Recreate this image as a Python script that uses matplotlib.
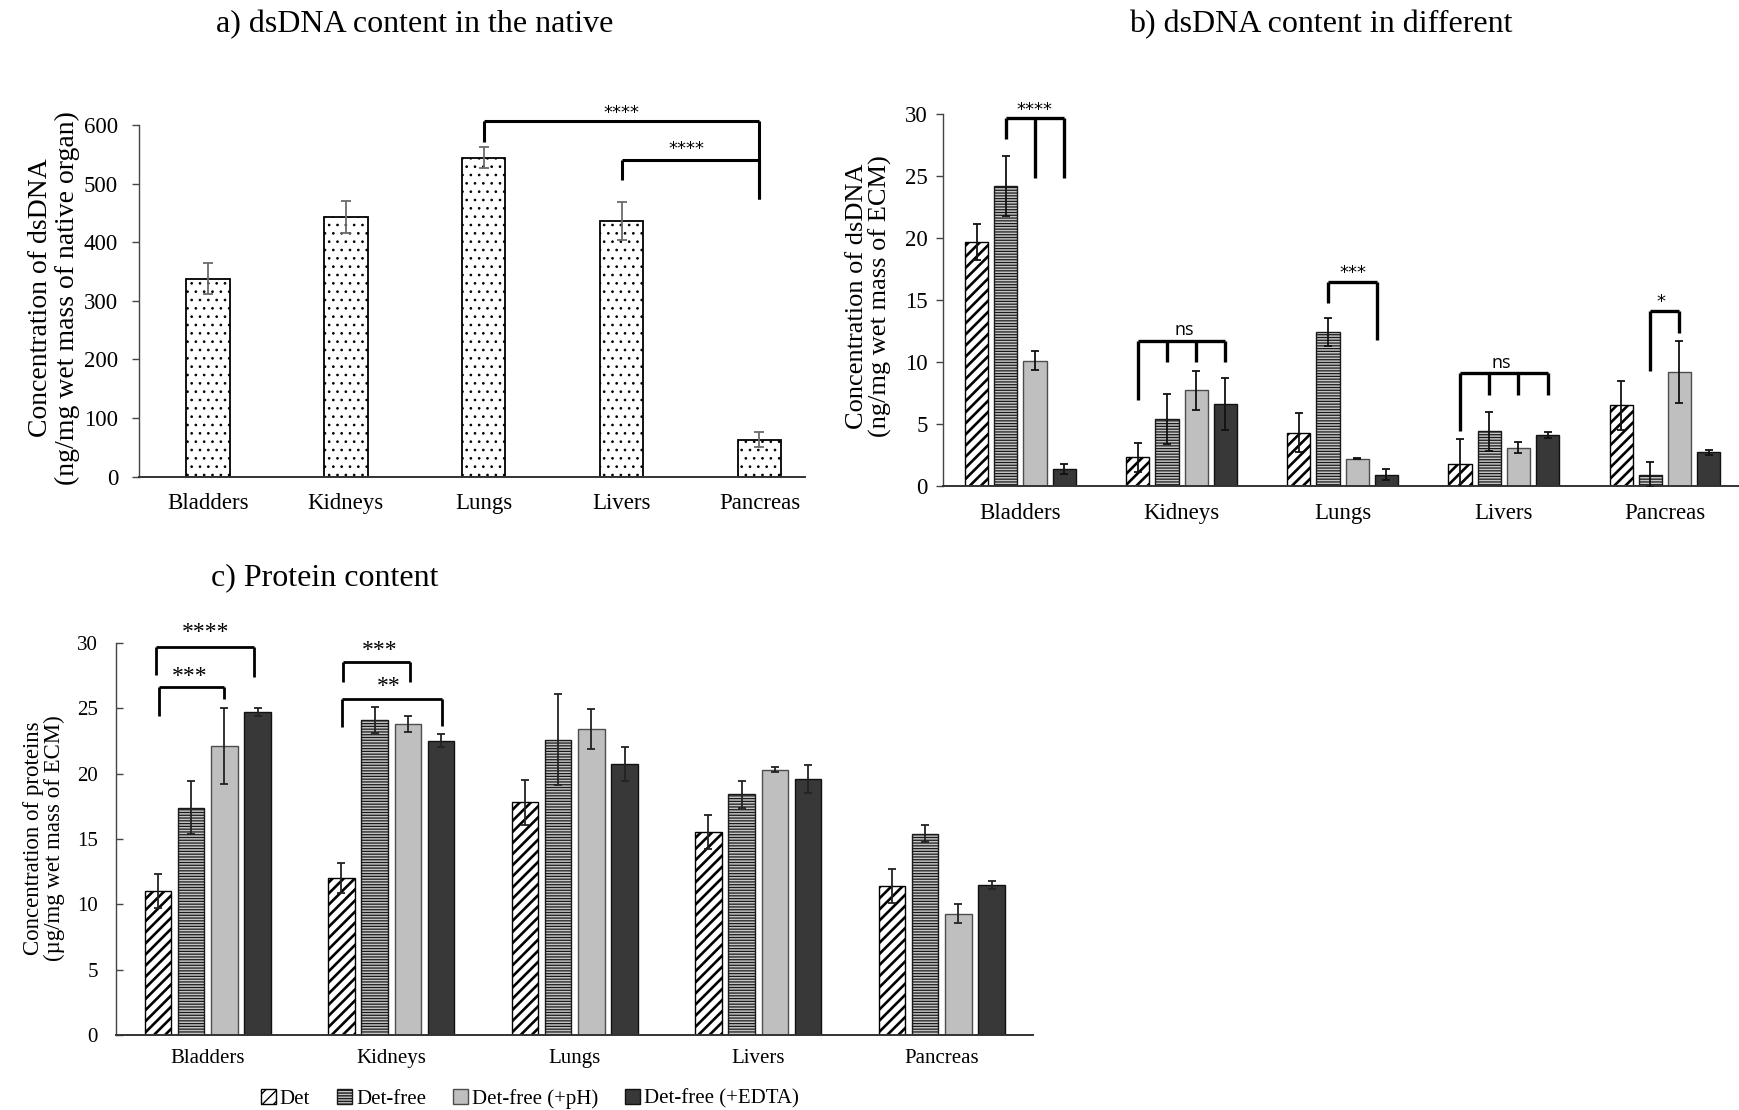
import numpy as np
import matplotlib
matplotlib.use("Agg")
import matplotlib.pyplot as plt

plt.rcParams["font.family"] = ["Liberation Serif", "DejaVu Serif"]

organs = ["Bladders", "Kidneys", "Lungs", "Livers", "Pancreas"]
series = ["Det", "Det-free", "Det-free (+pH)", "Det-free (+EDTA)"]

# a) native organs
native_mean = [338, 443, 544, 436, 63]
native_err = [26, 27, 18, 33, 13]

# b) dsDNA in ECM, one list per series
dna_mean = [
    [19.7, 2.3, 4.3, 1.8, 6.5],
    [24.2, 5.4, 12.4, 4.4, 0.9],
    [10.1, 7.7, 2.2, 3.1, 9.2],
    [1.4, 6.6, 0.9, 4.1, 2.7],
]
dna_err = [
    [1.45, 1.2, 1.6, 1.95, 1.95],
    [2.45, 2.05, 1.15, 1.6, 1.0],
    [0.78, 1.6, 0.05, 0.46, 2.53],
    [0.4, 2.1, 0.45, 0.27, 0.22],
]

# c) proteins in ECM
prot_mean = [
    [11.0, 12.0, 17.8, 15.5, 11.4],
    [17.4, 24.1, 22.6, 18.4, 15.4],
    [22.1, 23.8, 23.4, 20.3, 9.3],
    [24.7, 22.5, 20.7, 19.6, 11.5],
]
prot_err = [
    [1.3, 1.15, 1.7, 1.3, 1.3],
    [2.0, 1.0, 3.5, 1.0, 0.65],
    [2.9, 0.6, 1.55, 0.2, 0.75],
    [0.3, 0.5, 1.3, 1.05, 0.3],
]

x = np.arange(len(organs))
step = 0.181
width = 0.144
offs = [(i - 1.5) * step for i in range(4)]

styles = [
    dict(facecolor="white", edgecolor="black", hatch="///", hlw=1.9),
    dict(facecolor="#c4c4c4", edgecolor="#1a1a1a", hatch="------", hlw=0.9),
    dict(facecolor="#bfbfbf", edgecolor="#4d4d4d", hatch=None, hlw=1.0),
    dict(facecolor="#383838", edgecolor="#111111", hatch=None, hlw=1.0),
]

fig = plt.figure(figsize=(17.39, 11.10), dpi=100)


def style_axis(ax, ymax, ystep, fs, tick_dir, ypad, xpad):
    for s in ["top", "right"]:
        ax.spines[s].set_visible(False)
    ax.spines["left"].set_color("#444444")
    ax.spines["left"].set_linewidth(1.0)
    ax.spines["bottom"].set_color("#333333")
    ax.spines["bottom"].set_linewidth(1.4)
    ax.set_ylim(0, ymax)
    ax.set_yticks(np.arange(0, ymax + ystep / 2, ystep))
    ax.set_xticks(x)
    ax.set_xticklabels(organs)
    ax.tick_params(axis="x", length=0, labelsize=fs, pad=xpad)
    ax.tick_params(axis="y", direction=tick_dir, length=5, width=1,
                   color="#444444", labelsize=fs, pad=ypad)


def grouped_bars(ax, means, errs, ecolor):
    handles = []
    for i in range(4):
        st = styles[i]
        plt.rcParams["hatch.linewidth"] = st["hlw"]
        b = ax.bar(x + offs[i], means[i], width, color=st["facecolor"],
                   edgecolor=st["edgecolor"], hatch=st["hatch"], linewidth=1.0,
                   label=series[i], zorder=2)
        for p in b:
            if hasattr(p, "set_hatch_linewidth"):
                p.set_hatch_linewidth(st["hlw"])
        ax.errorbar(x + offs[i], means[i], yerr=errs[i], fmt="none", ecolor=ecolor,
                    elinewidth=1.3, capsize=3, capthick=1.3, zorder=3)
        handles.append(b)
    return handles


def bracket(ax, xs, top, bottoms, lw):
    ax.plot([xs[0], xs[-1]], [top, top], color="black", lw=lw, clip_on=False,
            solid_capstyle="butt", zorder=4)
    for xx, yb in zip(xs, bottoms):
        ax.plot([xx, xx], [top, yb], color="black", lw=lw, clip_on=False,
                solid_capstyle="butt", zorder=4)


# ---------- a)
ax_a = fig.add_axes([0.0799, 0.5705, 0.383, 0.3169])
plt.rcParams["hatch.linewidth"] = 0.7
bars_a = ax_a.bar(x, native_mean, 0.315, color="white", edgecolor="black",
                  hatch="..", linewidth=1.3, zorder=2)
for p in bars_a:
    if hasattr(p, "set_hatch_linewidth"):
        p.set_hatch_linewidth(0.7)
ax_a.errorbar(x, native_mean, yerr=native_err, fmt="none", ecolor="#6a6a6a",
              elinewidth=1.3, capsize=3.5, capthick=1.3, zorder=3)
style_axis(ax_a, 600, 100, 16.5, "out", 10, 12)
ax_a.set_xlim(-0.5, 4.33)
bracket(ax_a, [2, 4], 606.7, [570.6, 474.4], 2.2)
bracket(ax_a, [3, 4], 540.3, [506.3, 474.4], 2.2)
ax_a.text(3.0, 620, "****", ha="center", va="center", fontsize=13, family="DejaVu Sans")
ax_a.text(3.47, 559, "****", ha="center", va="center", fontsize=13, family="DejaVu Sans")
fig.text(415 / 1739, 1 - 25 / 1110, "a) dsDNA content in the native", ha="center",
         va="center", fontsize=23)
fig.text(54 / 1739, 1 - 298 / 1110,
         "Concentration of dsDNA\n(ng/mg wet mass of native organ)", rotation=90,
         ha="center", va="center", multialignment="center", fontsize=20, linespacing=1.05)

# ---------- b)
ax_b = fig.add_axes([0.5423, 0.5622, 0.4577, 0.3351])
grouped_bars(ax_b, dna_mean, dna_err, "#111111")
style_axis(ax_b, 30, 5, 16.5, "out", 6, 12.5)
ax_b.set_xlim(-0.48, 4.46)
bracket(ax_b, [0 + offs[1], 0 + offs[2], 0 + offs[3]], 29.65, [27.96, 24.87, 24.87], 2.4)
bracket(ax_b, [1 + o for o in offs], 11.72, [6.94, 9.97, 9.97, 9.97], 2.4)
bracket(ax_b, [2 + offs[1], 2.211], 16.48, [14.73, 11.77], 2.4)
bracket(ax_b, [3 + o for o in offs], 9.09, [4.44, 7.34, 7.34, 7.34], 2.4)
bracket(ax_b, [4 + offs[1], 4 + offs[2]], 14.11, [9.3, 12.3], 2.4)
ax_b.text(0.09, 30.35, "****", ha="center", va="center", fontsize=13, family="DejaVu Sans")
ax_b.text(1.02, 12.6, "ns", ha="center", va="center", fontsize=13, family="Open Sans")
ax_b.text(2.066, 17.15, "***", ha="center", va="center", fontsize=13, family="DejaVu Sans")
ax_b.text(2.986, 9.95, "ns", ha="center", va="center", fontsize=13, family="Open Sans")
ax_b.text(3.975, 14.87, "*", ha="center", va="center", fontsize=13, family="DejaVu Sans")
fig.text(1321 / 1739, 1 - 25 / 1110, "b) dsDNA content in different", ha="center",
         va="center", fontsize=23)
fig.text(869 / 1739, 1 - 296 / 1110,
         "Concentration of dsDNA\n(ng/mg wet mass of ECM)", rotation=90,
         ha="center", va="center", multialignment="center", fontsize=19, linespacing=1.05)

# ---------- c)
ax_c = fig.add_axes([0.0667, 0.0673, 0.5276, 0.3537])
handles = grouped_bars(ax_c, prot_mean, prot_err, "#222222")
style_axis(ax_c, 30, 5, 15, "in", 13, 10)
ax_c.set_xlim(-0.5, 4.5)
bracket(ax_c, [-0.28, 0.25], 29.69, [27.53, 27.4], 2.0)
bracket(ax_c, [-0.264, 0.09], 26.64, [24.4, 25.72], 2.0)
bracket(ax_c, [1 - 0.263, 1.102], 28.55, [26.97, 27.0], 2.0)
bracket(ax_c, [1 - 0.268, 1.278], 25.72, [23.53, 23.63], 2.0)
ax_c.text(-0.01, 30.76, "****", ha="center", va="center", fontsize=17)
ax_c.text(-0.10, 27.4, "***", ha="center", va="center", fontsize=17)
ax_c.text(0.935, 29.44, "***", ha="center", va="center", fontsize=17)
ax_c.text(0.986, 26.64, "**", ha="center", va="center", fontsize=17)
fig.text(325 / 1739, 1 - 578 / 1110, "c) Protein content", ha="center",
         va="center", fontsize=23)
fig.text(44 / 1739, 1 - 838 / 1110,
         "Concentration of proteins\n(\u00b5g/mg wet mass of ECM)", rotation=90,
         ha="center", va="center", multialignment="center", fontsize=16.5, linespacing=1.0)

fig.legend(handles, series, loc="center", bbox_to_anchor=(530 / 1739, 1 - 1099 / 1110),
           ncol=4, frameon=False, fontsize=15, handlelength=0.7, handleheight=0.7,
           handletextpad=0.2, columnspacing=1.3)

fig.savefig("out.png", dpi=100)
